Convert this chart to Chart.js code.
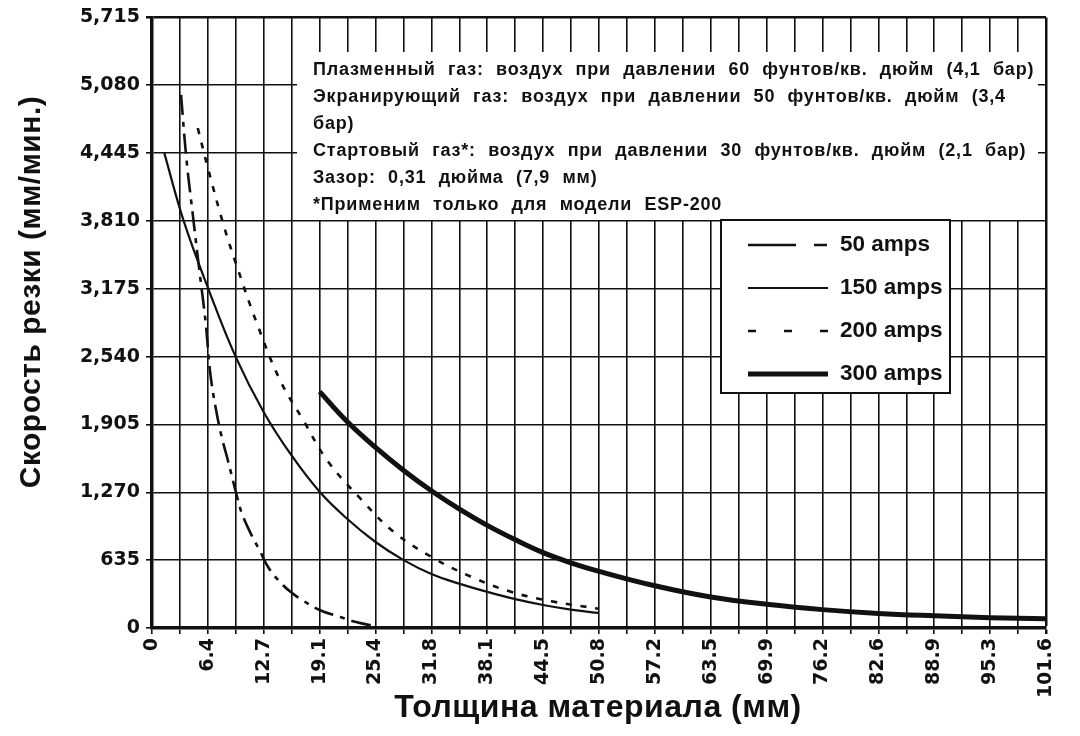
<!DOCTYPE html>
<html>
<head>
<meta charset="utf-8">
<script src="https://cdn.jsdelivr.net/npm/chart.js@4.4.1/dist/chart.umd.min.js"></script>
<style>
  html, body { margin: 0; padding: 0; background: #fff; }
  #wrap { width: 1080px; height: 736px; }
</style>
</head>
<body>
<div id="wrap"><canvas id="cutChart" width="1080" height="736"></canvas></div>
<script>
  // tick labels (mm), every second grid line is labelled
  const xTickLabels = ['0', '6.4', '12.7', '19.1', '25.4', '31.8', '38.1', '44.5', '50.8',
    '57.2', '63.5', '69.9', '76.2', '82.6', '88.9', '95.3', '101.6'];
  const xGridStep = 3.175;
  const yTickLabels = ['0', '635', '1,270', '1,905', '2,540', '3,175', '3,810', '4,445', '5,080', '5,715'];
  const yTickValues = [0, 635, 1270, 1905, 2540, 3175, 3810, 4445, 5080, 5715];

  const seriesNames = ['50 amps', '150 amps', '200 amps', '300 amps'];

  // thickness (mm) / speed (mm/min)
  const amps50X = [3.3, 3.9, 4.6, 5.4, 6.1, 6.6, 7.2, 7.9, 8.6, 9.6, 10.2, 11.2, 12.2, 13.3, 14.9, 16.0, 17.1, 19.1, 21.4, 23.2, 25.4];
  const amps50Y = [4990, 4400, 3894, 3336, 2856, 2400, 2077, 1795, 1577, 1250, 1076, 888, 732, 557, 400, 322, 260, 166, 103, 56, 15];

  const amps150X = [1.4, 3.6, 6.4, 9.5, 12.7, 15.9, 19.1, 22.2, 25.4, 28.6, 31.75, 34.9, 38.1, 41.3, 44.45, 47.6, 50.8];
  const amps150Y = [4445, 3810, 3175, 2540, 2020, 1610, 1270, 1020, 805, 635, 505, 415, 338, 270, 215, 172, 141];

  const amps200X = [5.2, 6.4, 8.2, 9.6, 11.9, 14.6, 17.3, 19.9, 23.7, 27.5, 31.75, 36.2, 40.7, 45.4, 50.8];
  const amps200Y = [4680, 4290, 3754, 3398, 2856, 2312, 1930, 1570, 1210, 898, 666, 482, 341, 250, 180];

  const amps300X = [19.05, 22.2, 25.4, 28.6, 31.75, 34.9, 38.1, 41.3, 44.45, 47.6, 50.8, 57.15, 63.5, 69.85, 76.2, 82.55, 88.9, 95.25, 101.6];
  const amps300Y = [2212, 1930, 1690, 1475, 1285, 1115, 960, 825, 705, 610, 530, 395, 290, 222, 172, 136, 114, 97, 86];

  const noteLines = [
    'Плазменный газ: воздух при давлении 60 фунтов/кв. дюйм (4,1 бар)',
    'Экранирующий газ: воздух при давлении 50 фунтов/кв. дюйм (3,4',
    'бар)',
    'Стартовый газ*: воздух при давлении 30 фунтов/кв. дюйм (2,1 бар)',
    'Зазор: 0,31 дюйма (7,9 мм)',
    '*Применим только для модели ESP-200',
  ];

  const FONT = "'Liberation Sans', Arial, sans-serif";
  const WIDE = "'DejaVu Sans', Verdana, sans-serif";

  const lineStyles = [
    { width: 2.6, dash: [20, 7, 5, 7], legendDash: [48, 18, 13, 200] },
    { width: 2.2, dash: [], legendDash: [] },
    { width: 2.6, dash: [6, 9], legendDash: [8, 28] },
    { width: 5, dash: [], legendDash: [] },
  ];

  const toPoints = (xs, ys) => xs.map((x, i) => ({ x: x, y: ys[i] }));
  const seriesData = [
    toPoints(amps50X, amps50Y),
    toPoints(amps150X, amps150Y),
    toPoints(amps200X, amps200Y),
    toPoints(amps300X, amps300Y),
  ];

  const datasets = seriesNames.map((name, i) => ({
    label: name,
    data: seriesData[i],
    borderColor: '#111',
    borderWidth: lineStyles[i].width,
    borderDash: lineStyles[i].dash,
    borderCapStyle: 'butt',
    pointRadius: 0,
    fill: false,
    tension: 0.4,
  }));

  // white notes panel + legend box, drawn over the grid
  const panelPlugin = {
    id: 'panel',
    beforeDatasetsDraw(chart) {
      const ctx = chart.ctx;
      const area = chart.chartArea;
      ctx.save();
      ctx.fillStyle = '#fff';
      ctx.fillRect(297, 52, area.right - 297 - 8, 168);
      ctx.fillRect(721, 220, 229, 173);
      ctx.strokeStyle = '#111';
      ctx.lineWidth = 2;
      ctx.strokeRect(721, 220, 229, 173);

      ctx.fillStyle = '#111';
      ctx.font = 'bold 18px ' + FONT;
      ctx.textBaseline = 'middle';
      ctx.textAlign = 'left';
      ctx.letterSpacing = '0.8px';
      ctx.wordSpacing = '6.5px';
      noteLines.forEach((t, i) => {
        ctx.fillText(t, 313, 70 + i * 27);
      });
      ctx.wordSpacing = '0px';
      ctx.letterSpacing = '0px';

      ctx.font = 'bold 22.5px ' + FONT;
      seriesNames.forEach((name, i) => {
        const y = 245 + i * 43;
        ctx.beginPath();
        ctx.lineWidth = lineStyles[i].width;
        ctx.setLineDash(lineStyles[i].legendDash);
        ctx.moveTo(748, y);
        ctx.lineTo(828, y);
        ctx.stroke();
        ctx.setLineDash([]);
        ctx.fillText(name, 840, y);
      });
      ctx.restore();
    },
    afterDraw(chart) {
      const ctx = chart.ctx;
      ctx.save();
      ctx.fillStyle = '#111';
      ctx.textAlign = 'center';
      ctx.textBaseline = 'middle';
      ctx.letterSpacing = '0.5px';
      ctx.font = 'bold 32px ' + FONT;
      ctx.fillText('Толщина материала (мм)', 598, 708);
      ctx.translate(32, 292);
      ctx.rotate(-Math.PI / 2);
      ctx.font = 'bold 30px ' + FONT;
      ctx.fillText('Скорость резки (мм/мин.)', 0, 0);
      ctx.restore();
    },
  };

  const gridWidth = (max) => (c) => (c.tick && Math.abs(c.tick.value - max) < 0.01 ? 2.5 : 1.6);

  new Chart(document.getElementById('cutChart'), {
    type: 'line',
    data: { datasets: datasets },
    options: {
      responsive: false,
      animation: false,
      layout: { padding: { left: 0, right: 34, top: 16, bottom: 0 } },
      plugins: { legend: { display: false }, tooltip: { enabled: false } },
      scales: {
        x: {
          type: 'linear',
          min: 0,
          max: 101.6,
          afterBuildTicks: (scale) => {
            const ticks = [];
            for (let i = 0; i <= (xTickLabels.length - 1) * 2; i++) ticks.push({ value: i * xGridStep });
            scale.ticks = ticks;
          },
          afterFit: (scale) => { scale.height = 108; },
          ticks: {
            autoSkip: false,
            maxRotation: 90,
            minRotation: 90,
            padding: 4,
            color: '#111',
            font: { family: WIDE, size: 19, weight: 'bold' },
            callback: (v, i) => (i % 2 === 0 ? xTickLabels[i / 2] : ''),
          },
          grid: { color: '#111', lineWidth: gridWidth(101.6), tickLength: 6 },
          border: { display: true, color: '#111', width: 3.5 },
        },
        y: {
          type: 'linear',
          min: 0,
          max: 5715,
          afterBuildTicks: (scale) => {
            scale.ticks = yTickValues.map((v) => ({ value: v }));
          },
          afterFit: (scale) => { scale.width = 152; },
          ticks: {
            padding: 6,
            color: '#111',
            font: { family: WIDE, size: 19, weight: 'bold' },
            callback: (v, i) => yTickLabels[i],
          },
          grid: { color: '#111', lineWidth: gridWidth(5715), tickLength: 6 },
          border: { display: true, color: '#111', width: 3.5 },
        },
      },
    },
    plugins: [panelPlugin],
  });
</script>
</body>
</html>
